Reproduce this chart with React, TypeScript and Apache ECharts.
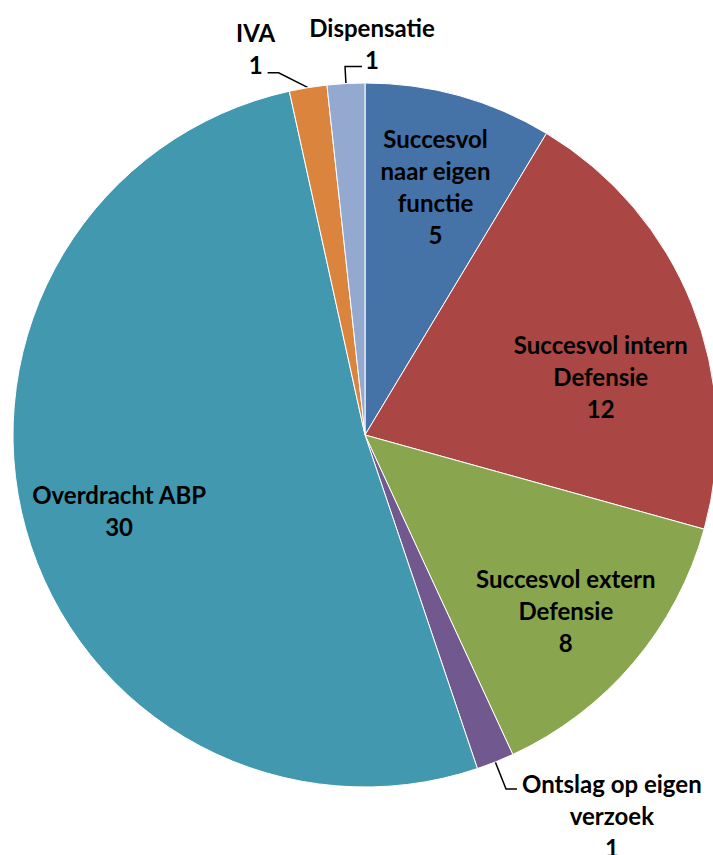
import React, { useEffect, useRef } from 'react';
import * as echarts from 'echarts';

const categories = [
  'Succesvol naar eigen functie',
  'Succesvol intern Defensie',
  'Succesvol extern Defensie',
  'Ontslag op eigen verzoek',
  'Overdracht ABP',
  'IVA',
  'Dispensatie',
];
const labelTexts = [
  'Succesvol\nnaar eigen\nfunctie',
  'Succesvol intern\nDefensie',
  'Succesvol extern\nDefensie',
  'Ontslag op eigen\nverzoek',
  'Overdracht ABP',
  'IVA',
  'Dispensatie',
];
const values = [5, 12, 8, 1, 30, 1, 1];
const colors = ['#4572A7', '#AA4643', '#89A54E', '#71588F', '#4198AF', '#DB843D', '#93A9CF'];
const insideLabel = [true, true, true, false, true, false, false];
const lineLengths: Record<number, [number, number]> = { 3: [29, 11], 5: [15, 38], 6: [17, 17] };

const FONT = 'Lato, "Noto Sans", sans-serif';
const CENTER = [365, 435];
const R = 352;

export default function App() {
  const ref = useRef<HTMLDivElement>(null);
  useEffect(() => {
    if (!ref.current) return;
    const chart = echarts.init(ref.current, null, { renderer: 'svg' });
    const textStyle = {
      fontFamily: FONT,
      fontWeight: 'bold' as const,
      fontSize: 24,
      lineHeight: 32,
      color: '#000',
    };
    chart.setOption({
      animation: false,
      series: [
        {
          type: 'pie',
          center: CENTER,
          radius: [0, R],
          startAngle: 90,
          clockwise: true,
          avoidLabelOverlap: false,
          silent: true,
          itemStyle: { borderColor: '#ffffff', borderWidth: 1 },
          label: {
            position: 'outside',
            formatter: (p: any) => labelTexts[p.dataIndex] + '\n' + p.value,
            ...textStyle,
          },
          labelLine: { lineStyle: { color: '#000', width: 1.5 } },
          data: values.map((v, i) => ({
            value: v,
            name: categories[i],
            itemStyle: { color: colors[i] },
            label: { show: !insideLabel[i] },
            labelLine: {
              show: !insideLabel[i],
              length: lineLengths[i] ? lineLengths[i][0] : 10,
              length2: lineLengths[i] ? lineLengths[i][1] : 10,
            },
          })),
          labelLayout: (p: any) => {
            const pts = p.labelLinePoints;
            if (!pts || pts.length < 3) return {};
            const r = p.labelRect;
            const [p0, p1, p2] = pts;
            const i = p.dataIndex;
            if (i === 6) {
              const len2 = Math.abs(p2[0] - p1[0]);
              const end = [p1[0] + len2, p1[1]];
              return {
                labelLinePoints: [p0, p1, end],
                x: end[0] + 10,
                y: end[1] + 9,
                align: 'center',
                verticalAlign: 'bottom',
              };
            }
            if (i === 5) {
              return {
                labelLinePoints: [p0, [p2[0] + 11, p1[1]], p2],
                x: p2[0] - 12,
                y: p2[1] + 8,
                align: 'center',
                verticalAlign: 'bottom',
              };
            }
            if (i === 3) {
              return {
                labelLinePoints: pts,
                x: p2[0] + 5 + r.width / 2,
                y: p2[1] - 21,
                align: 'center',
                verticalAlign: 'top',
              };
            }
            return {};
          },
        },
        {
          type: 'pie',
          center: CENTER,
          radius: [R * 0.48, R],
          startAngle: 90,
          clockwise: true,
          avoidLabelOverlap: false,
          silent: true,
          itemStyle: { color: 'transparent', borderWidth: 0 },
          label: {
            position: 'inside',
            formatter: (p: any) => labelTexts[p.dataIndex] + '\n' + p.value,
            ...textStyle,
          },
          labelLine: { show: false },
          data: values.map((v, i) => ({
            value: v,
            name: categories[i],
            label: { show: insideLabel[i] },
          })),
          labelLayout: (p: any) => {
            const r = p.labelRect;
            const shift = p.dataIndex === 1 ? [-9, 39] : p.dataIndex === 4 ? [8, 5] : [0, 5];
            return {
              x: r.x + r.width / 2 + shift[0],
              y: r.y + r.height / 2 + shift[1],
              align: 'center',
              verticalAlign: 'middle',
            };
          },
        },
      ],
    });
    return () => chart.dispose();
  }, []);
  return (
    <div
      ref={ref}
      style={{ position: 'fixed', left: 0, top: 0, width: 713, height: 855, background: '#fff' }}
    />
  );
}
